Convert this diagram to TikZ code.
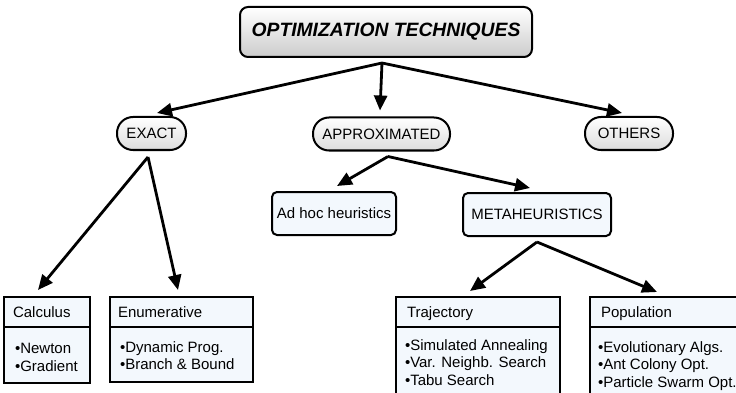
\documentclass[tikz,border=0pt]{standalone}
\usepackage{fontspec}
\setmainfont{Liberation Sans}
\usetikzlibrary{arrows.meta,calc}
\definecolor{boxblue}{HTML}{F3F8FD}
\definecolor{capsgray}{HTML}{DCDCDC}
\definecolor{titlegray}{HTML}{CCCCCC}

\begin{document}
\begin{tikzpicture}[x=1pt,y=-1pt,
  every node/.style={font=\fontsize{15}{17.5}\selectfont, inner sep=0pt, outer sep=0pt},
  border/.style={draw=black, line width=2pt},
  titlebox/.style={border, rounded corners=8pt, top color=white, bottom color=titlegray,
    minimum width=292pt, minimum height=50pt, font=\fontsize{19.3}{22}\selectfont\bfseries\itshape},
  capsule/.style={border, rounded corners=16pt, top color=white, bottom color=capsgray, minimum height=33pt},
  roundbox/.style={border, rounded corners=5pt, fill=boxblue, minimum height=43pt},
  listbox/.style={border, fill=boxblue, anchor=north west},
  listhead/.style={anchor=base west},
  listbody/.style={anchor=north west, align=left},
  arr/.style={line width=2.8pt, -{Triangle[length=15pt,width=13pt]}}
]
\useasboundingbox (0,0) rectangle (736,393);
\clip (0,0) rectangle (736,393);

% root
\node[titlebox] (title) at (386,32) {OPTIMIZATION TECHNIQUES};

% first level
\node[capsule, minimum width=69pt]  (exact)  at (151.5,133.5) {EXACT};
\node[capsule, minimum width=137pt] (approx) at (381.5,134)   {APPROXIMATED};
\node[capsule, minimum width=88pt]  (others) at (629,133.5)   {OTHERS};

% approximated branch
\node[roundbox, minimum width=124pt] (adhoc) at (334,213.5) {Ad hoc heuristics};
\node[roundbox, minimum width=148pt] (meta)  at (537,214.5) {METAHEURISTICS};

% list boxes
\node[listbox, minimum width=86pt,  minimum height=86pt]  (calc) at (4,297)   {};
\node[listbox, minimum width=143pt, minimum height=85pt]  (enum) at (110,297) {};
\node[listbox, minimum width=164pt, minimum height=120pt] (traj) at (396,297) {};
\node[listbox, minimum width=175pt, minimum height=120pt] (pop)  at (590,297) {};

\foreach \b in {calc,enum,traj,pop}
  \draw[border] ($(\b.north west)+(0,30)$) -- ($(\b.north east)+(0,30)$);

\node[listhead] (calc-h) at ($(calc.north west)+(9,20.4)$)  {Calculus};
\node[listhead] (enum-h) at ($(enum.north west)+(8,20.4)$)  {Enumerative};
\node[listhead] (traj-h) at ($(traj.north west)+(11,20.4)$) {Trajectory};
\node[listhead] (pop-h)  at ($(pop.north west)+(11,20.4)$)  {Population};

\node[listbody] (calc-b) at ($(calc.north west)+(11,46.5)$) {•Newton\\•Gradient};
\node[listbody] (enum-b) at ($(enum.north west)+(10,44.5)$) {•Dynamic Prog.\\•Branch \& Bound};
\node[listbody] (traj-b) at ($(traj.north west)+(9,42.5)$)  {•Simulated Annealing\\•Var. Neighb. Search\\•Tabu Search};
\node[listbody] (pop-b)  at ($(pop.north west)+(8,44.5)$)   {•Evolutionary Algs.\\•Ant Colony Opt.\\•Particle Swarm Opt.};

% connectors
\coordinate (title-out)  at ($(title.south)+(-4,6)$);
\coordinate (exact-out)  at ($(exact.south)+(-3.5,7)$);
\coordinate (approx-out) at ($(approx.south)+(6.5,6)$);
\coordinate (meta-out)   at ($(meta.south)+(0,6)$);

\draw[arr] (title-out) -- ($(exact.north)+(5.5,-4)$);
\draw[arr] (title-out) -- ($(approx.north)+(-1.5,-7)$);
\draw[arr] (title-out) -- ($(others.north)+(-7,-4)$);

\draw[arr] (exact-out) -- ($(calc.north)+(-9,-7)$);
\draw[arr] (exact-out) -- ($(enum.north)+(-3.5,-7)$);

\draw[arr] (approx-out) -- ($(adhoc.north)+(3,-6)$);
\draw[arr] (approx-out) -- ($(meta.north)+(-7,-5)$);

\draw[arr] (meta-out) -- ($(traj.north)+(-8,-6)$);
\draw[arr] (meta-out) -- ($(pop.north west)+(67,-5)$);
\end{tikzpicture}
\end{document}
